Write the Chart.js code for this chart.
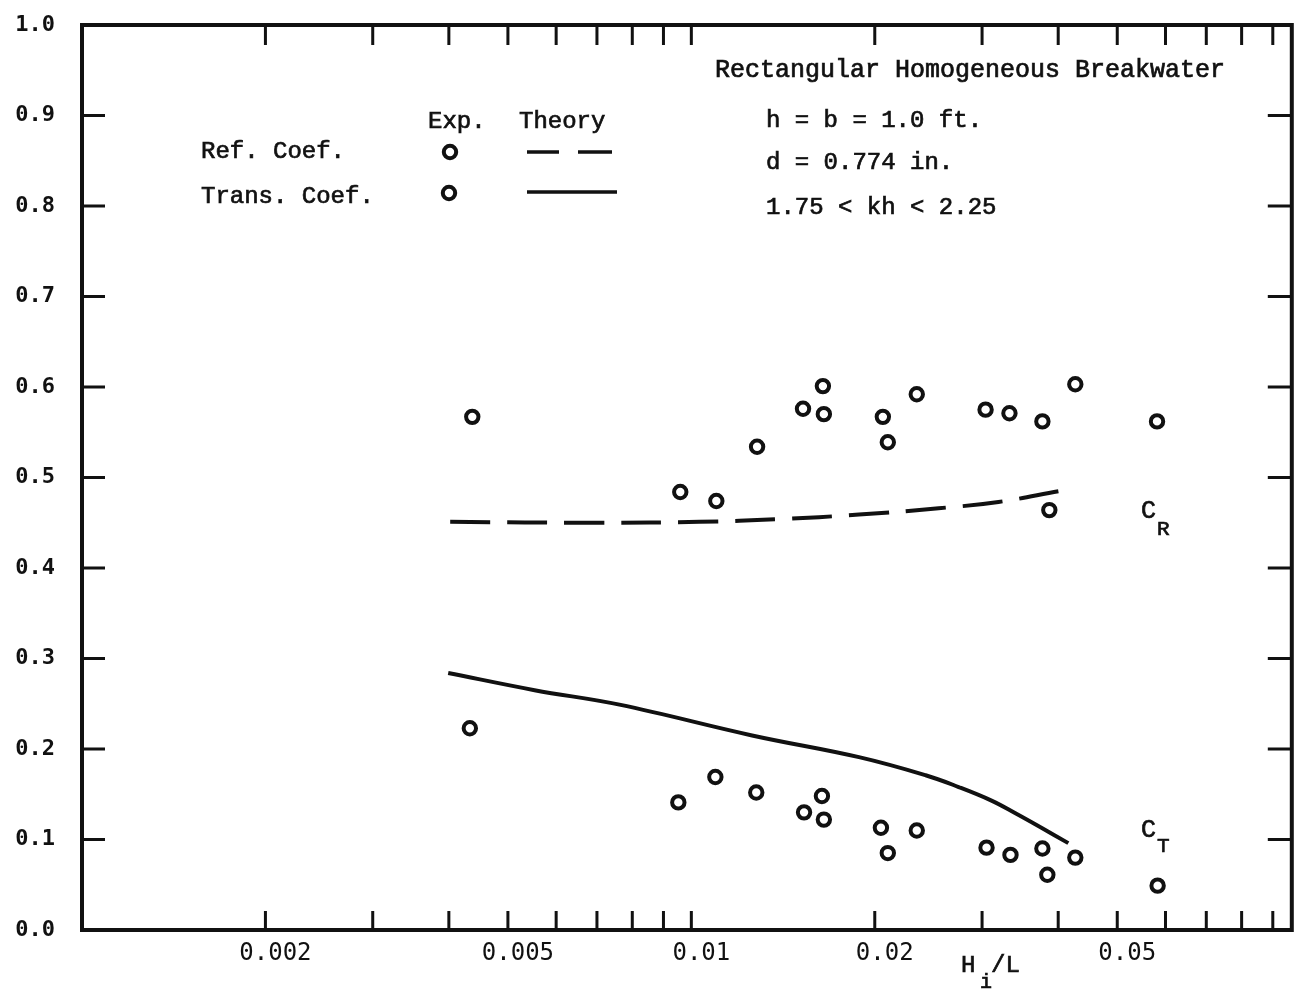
<!DOCTYPE html>
<html>
<head>
<meta charset="utf-8">
<script src="https://cdn.jsdelivr.net/npm/chart.js@4.4.1/dist/chart.umd.min.js"></script>
<style>
  html, body { margin: 0; padding: 0; background: #fff; }
  #wrap { width: 1302px; height: 990px; }
</style>
</head>
<body>
<div id="wrap"><canvas id="chart" width="1302" height="990"></canvas></div>
<script>
// measured reflection / transmission coefficients vs. wave steepness H_i/L
const refX = [0.00437, 0.00959, 0.01099, 0.01282, 0.01525, 0.01644, 0.0165, 0.02062, 0.02101, 0.02344, 0.0304, 0.03327, 0.03768, 0.04267, 0.03868, 0.05811];
const refY = [0.567, 0.484, 0.474, 0.534, 0.576, 0.601, 0.570, 0.567, 0.539, 0.592, 0.575, 0.571, 0.562, 0.603, 0.464, 0.562];
const transX = [0.00433, 0.00952, 0.01095, 0.01278, 0.01531, 0.01638, 0.0165, 0.02047, 0.02101, 0.02344, 0.03051, 0.0334, 0.03768, 0.03839, 0.04267, 0.05824];
const transY = [0.223, 0.141, 0.169, 0.152, 0.130, 0.148, 0.122, 0.113, 0.085, 0.110, 0.091, 0.083, 0.090, 0.061, 0.080, 0.049];

// theory curves
const refTheoryX = [0.00402, 0.00707, 0.01031, 0.01393, 0.01884, 0.02546, 0.03192, 0.04017];
const refTheoryY = [0.451, 0.450, 0.451, 0.454, 0.459, 0.466, 0.473, 0.485];
const transTheoryX = [0.00399, 0.00553, 0.00762, 0.01258, 0.01884, 0.02424, 0.02746, 0.03109, 0.03403, 0.03754, 0.04156];
const transTheoryY = [0.284, 0.265, 0.249, 0.215, 0.191, 0.171, 0.158, 0.143, 0.129, 0.113, 0.096];

// axes
const xTicks = [0.002, 0.003, 0.004, 0.005, 0.006, 0.007, 0.008, 0.009, 0.01, 0.02, 0.03, 0.04, 0.05, 0.06, 0.07, 0.08, 0.09];
const xTickLabels = { 0.002: '0.002', 0.005: '0.005', 0.01: '0.01', 0.02: '0.02', 0.05: '0.05' };
const yTicks = [0, 0.1, 0.2, 0.3, 0.4, 0.5, 0.6, 0.7, 0.8, 0.9, 1.0];

const INK = '#111';
const TYPE = '"Liberation Mono", "Courier New", monospace';

const pts = (xs, ys) => xs.map((x, i) => ({ x: x, y: ys[i] }));

const circleStyle = {
    showLine: false,
    pointStyle: 'circle',
    pointRadius: 6.2,
    pointBorderWidth: 4,
    pointBorderColor: INK,
    pointBackgroundColor: '#fff',
    pointHoverRadius: 6.2
};

// typed text, drawn a little heavier like typewriter ink
function inkText(ctx, s, x, y) {
    ctx.fillText(s, x, y);
    ctx.strokeText(s, x, y);
}

// frame, inward tick marks and all the typed annotations
const framePlugin = {
    id: 'framePlugin',
    afterDraw(chart) {
        const { ctx, chartArea: a, scales: { x, y } } = chart;
        ctx.save();
        ctx.strokeStyle = INK;
        ctx.lineCap = 'butt';

        ctx.lineWidth = 3;
        xTicks.forEach(v => {
            const px = x.getPixelForValue(v);
            ctx.beginPath();
            ctx.moveTo(px, a.bottom); ctx.lineTo(px, a.bottom - 19);
            ctx.moveTo(px, a.top); ctx.lineTo(px, a.top + 20);
            ctx.stroke();
        });
        yTicks.slice(1, -1).forEach(v => {
            const py = y.getPixelForValue(v);
            ctx.beginPath();
            ctx.moveTo(a.left, py); ctx.lineTo(a.left + 23, py);
            ctx.moveTo(a.right, py); ctx.lineTo(a.right - 24, py);
            ctx.stroke();
        });

        ctx.lineWidth = 4;
        ctx.strokeRect(a.left, a.top, a.right - a.left, a.bottom - a.top);

        ctx.fillStyle = INK;
        ctx.lineWidth = 0.7;
        ctx.textBaseline = 'alphabetic';
        ctx.textAlign = 'left';
        ctx.font = '25px ' + TYPE;
        inkText(ctx, 'Rectangular Homogeneous Breakwater', 715, 77);
        ctx.font = '24px ' + TYPE;
        inkText(ctx, 'h = b = 1.0 ft.', 766, 127);
        inkText(ctx, 'd = 0.774 in.', 766, 169);
        inkText(ctx, '1.75 < kh < 2.25', 766, 214);

        inkText(ctx, 'Exp.', 428, 128);
        inkText(ctx, 'Theory', 519, 128);
        inkText(ctx, 'Ref. Coef.', 201, 158);
        inkText(ctx, 'Trans. Coef.', 201, 203);

        // curve labels
        ctx.font = '25px ' + TYPE;
        inkText(ctx, 'C', 1141, 518);
        inkText(ctx, 'C', 1141, 837);
        ctx.font = '21px ' + TYPE;
        inkText(ctx, 'R', 1157, 535);
        inkText(ctx, 'T', 1157, 852);

        // axis title H_i/L
        ctx.font = '24px ' + TYPE;
        inkText(ctx, 'H', 961, 972);
        inkText(ctx, '/L', 991, 972);
        ctx.font = '20px ' + TYPE;
        inkText(ctx, 'i', 980, 988);

        // legend samples
        ctx.lineWidth = 4;
        ctx.fillStyle = '#fff';
        [[450, 152], [449, 193]].forEach(([cx, cy]) => {
            ctx.beginPath();
            ctx.arc(cx, cy, 6.2, 0, Math.PI * 2);
            ctx.fill();
            ctx.stroke();
        });
        ctx.lineWidth = 3.5;
        ctx.beginPath();
        ctx.moveTo(527, 152); ctx.lineTo(559, 152);
        ctx.moveTo(578, 152); ctx.lineTo(612, 152);
        ctx.moveTo(527, 192); ctx.lineTo(617, 192);
        ctx.stroke();
        ctx.restore();
    }
};

new Chart(document.getElementById('chart'), {
    type: 'scatter',
    data: {
        datasets: [
            { label: 'Ref. Coef. (Exp.)', data: pts(refX, refY), ...circleStyle },
            { label: 'Trans. Coef. (Exp.)', data: pts(transX, transY), ...circleStyle },
            {
                label: 'Ref. Coef. (Theory)', data: pts(refTheoryX, refTheoryY),
                showLine: true, borderColor: INK, borderWidth: 4, borderDash: [40, 17],
                tension: 0.4, pointRadius: 0, pointHoverRadius: 0
            },
            {
                label: 'Trans. Coef. (Theory)', data: pts(transTheoryX, transTheoryY),
                showLine: true, borderColor: INK, borderWidth: 4,
                tension: 0.4, pointRadius: 0, pointHoverRadius: 0
            }
        ]
    },
    options: {
        responsive: false,
        animation: false,
        devicePixelRatio: 1,
        layout: { padding: { left: 0, right: 8, top: 25, bottom: 0 } },
        plugins: { legend: { display: false }, tooltip: { enabled: false } },
        scales: {
            x: {
                type: 'logarithmic',
                min: 0.001,
                max: 0.0967,
                grid: { display: false, drawTicks: false },
                border: { display: false },
                afterBuildTicks: s => { s.ticks = xTicks.map(v => ({ value: v })); },
                afterFit: s => { s.height = 60; s.paddingLeft = 0; s.paddingRight = 0; },
                ticks: {
                    autoSkip: false,
                    maxRotation: 0,
                    padding: 9,
                    labelOffset: 10,
                    color: INK,
                    font: { family: '"DejaVu Sans Mono", monospace', size: 24 },
                    callback: v => xTickLabels[v] || ''
                }
            },
            y: {
                min: 0,
                max: 1,
                grid: { display: false, drawTicks: false },
                border: { display: false },
                afterBuildTicks: s => { s.ticks = yTicks.map(v => ({ value: v })); },
                afterFit: s => { s.width = 82; s.paddingTop = 0; s.paddingBottom = 0; },
                ticks: {
                    padding: 27,
                    color: INK,
                    font: { family: '"DejaVu Sans Mono", monospace', size: 22, weight: 'bold' },
                    callback: v => v.toFixed(1)
                }
            }
        }
    },
    plugins: [framePlugin]
});
</script>
</body>
</html>
